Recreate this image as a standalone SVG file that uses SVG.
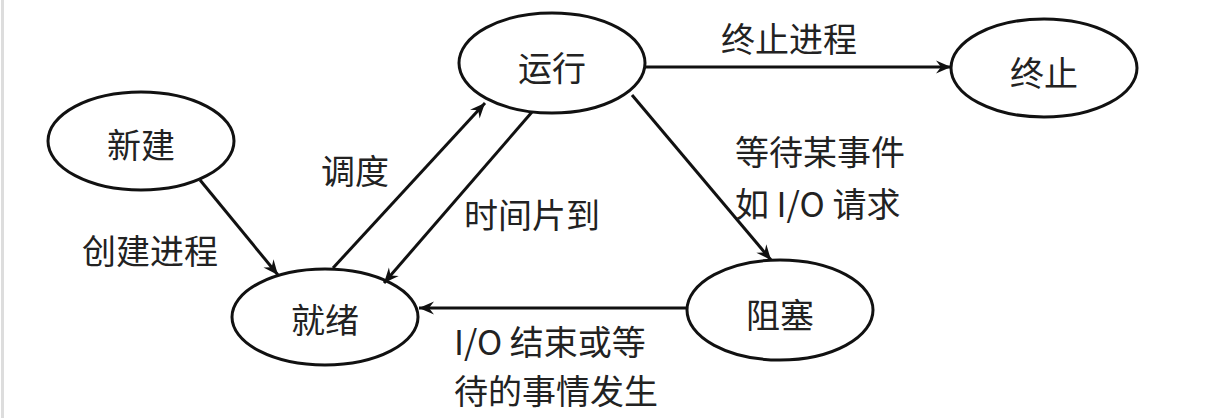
<svg xmlns="http://www.w3.org/2000/svg" width="1210" height="419" viewBox="0 0 1210 419">
<style>
.node ellipse{fill:#fff;stroke:#111;stroke-width:3}
text{font-family:"Noto Sans CJK SC","Noto Sans",sans-serif;font-size:34px;fill:#222;dominant-baseline:central}
.node text{text-anchor:middle}
.edges line{stroke:#111;stroke-width:3;marker-end:url(#arr)}
</style>
<defs>
<marker id="arr" markerUnits="userSpaceOnUse" viewBox="-16 -8 18 16" markerWidth="18" markerHeight="16" refX="0" refY="0" orient="auto">
<path d="M-15,-6.5 L0,0 L-15,6.5 L-10,0 Z" fill="#111"/>
</marker>
</defs>
<rect x="1" y="0" width="3" height="418" fill="#ddd"/>
<g id="n-new" class="node"><ellipse cx="141" cy="141" rx="93" ry="49"/><text x="141" y="143">新建</text></g>
<g id="n-ready" class="node"><ellipse cx="325" cy="317" rx="93" ry="48"/><text x="325" y="318">就绪</text></g>
<g id="n-run" class="node"><ellipse cx="552" cy="63" rx="93" ry="50"/><text x="552" y="66">运行</text></g>
<g id="n-end" class="node"><ellipse cx="1044" cy="68" rx="93" ry="49"/><text x="1044" y="71">终止</text></g>
<g id="n-block" class="node"><ellipse cx="780" cy="310" rx="93" ry="50"/><text x="780" y="313">阻塞</text></g>
<g class="edges">
<line x1="200" y1="180" x2="278" y2="275"/>
<line x1="333" y1="268" x2="485" y2="103"/>
<line x1="532" y1="112" x2="384" y2="283"/>
<line x1="632" y1="95" x2="771" y2="260"/>
<line x1="687" y1="308" x2="419" y2="308"/>
<line x1="645" y1="67" x2="951" y2="67"/>
</g>
<g id="labels">
<text x="321" y="169">调度</text>
<text x="82" y="249">创建进程</text>
<text x="464" y="213">时间片到</text>
<text x="721" y="37">终止进程</text>
<text x="735" y="150">等待某事件</text>
<text x="735" y="202">如 I/O 请求</text>
<text x="454" y="340">I/O 结束或等</text>
<text x="454" y="389">待的事情发生</text>
</g>
</svg>
